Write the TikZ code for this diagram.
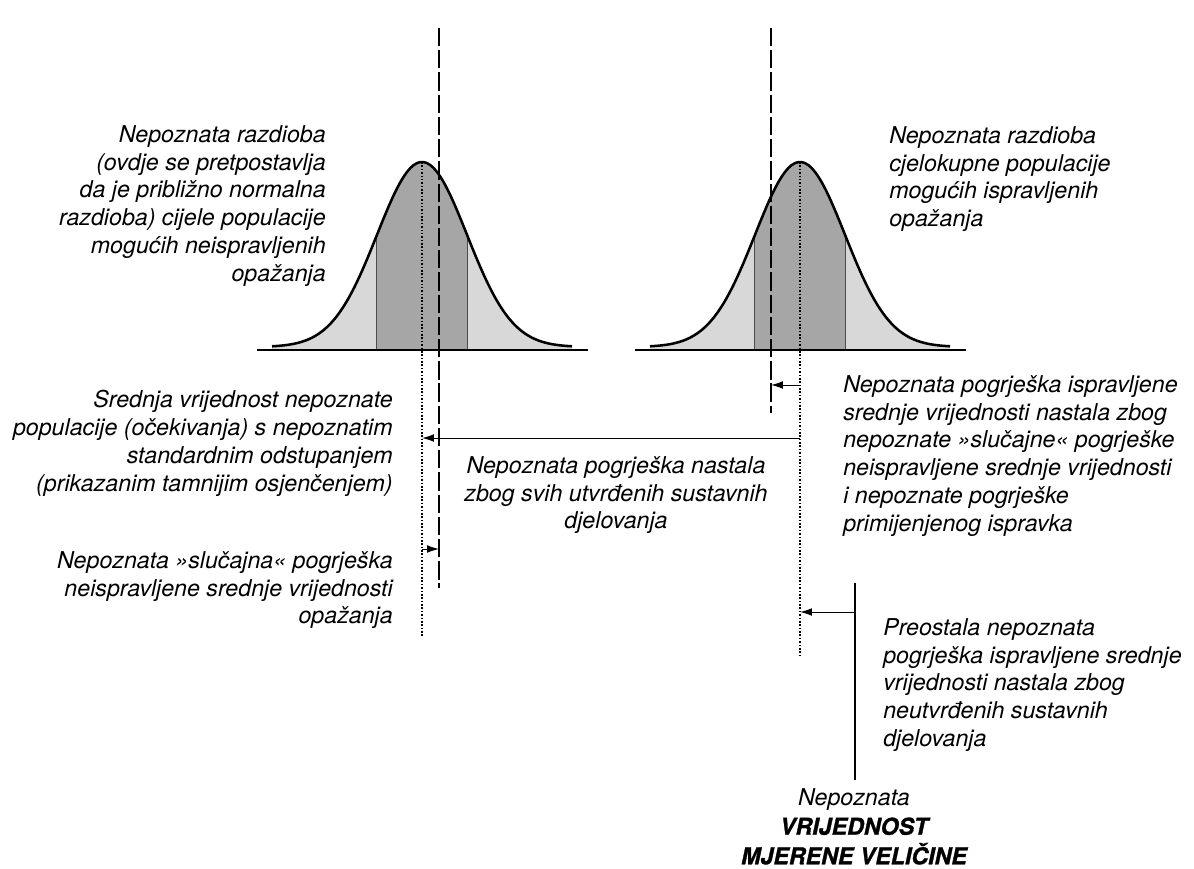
\documentclass[tikz,border=0pt]{standalone}
\usepackage{fontspec}
\setmainfont{TeX Gyre Heros}
\newfontfamily\heavyfont[FakeBold=1.2]{TeX Gyre Heros}
\usetikzlibrary{arrows.meta}
\tikzset{note/.style={font=\itshape\fontsize{16.5}{19.8}\selectfont,inner sep=0pt},
 dotline/.style={line width=1.3pt,dash pattern=on 1.1pt off 1.3pt},
 dashline/.style={line width=0.9pt,dash pattern=on 13pt off 2.8pt},
 err/.style={line width=0.7pt,-{Latex[length=8.5pt,width=5.5pt]}},
 bell/.style={line width=1.8pt,line join=round}}
\definecolor{tailgray}{RGB}{216,216,216}
\definecolor{bandgray}{RGB}{166,166,166}

\begin{document}
\begin{tikzpicture}[x=0.025cm,y=-0.025cm,declare function={gy(\t)=347-185*exp(-0.5*(\t/45)*(\t/45));}]
\useasboundingbox (0,0) rectangle (1194,868);
% the two populations
\foreach \m in {422,800}{
 \fill[tailgray] (\m-150,350) -- plot[domain=-150:150,samples=90,smooth] ({\m+\x},{gy(\x)}) -- (\m+150,350) -- cycle;
 \begin{scope}
 \clip (\m-150,350) -- plot[domain=-150:150,samples=90,smooth] ({\m+\x},{gy(\x)}) -- (\m+150,350) -- cycle;
 \fill[bandgray] (\m-45.5,352) rectangle (\m+45.5,150);
 \draw[line width=0.6pt,black!70] (\m-45.5,352) -- (\m-45.5,150) (\m+45.5,352) -- (\m+45.5,150);
 \end{scope}
 \draw[bell] plot[domain=-150:150,samples=90,smooth] ({\m+\x},{gy(\x)});
 \draw[line width=1.8pt] (\m-165,350) -- (\m+166,350);
}
\coordinate (lmu) at (422,162); \coordinate (lmuend) at (422,637);
\coordinate (lobs) at (439,28); \coordinate (lobsend) at (439,588);
\coordinate (rmu) at (800,162); \coordinate (rmuend) at (800,657);
\coordinate (rcor) at (771,28); \coordinate (rcorend) at (771,413);
\coordinate (truev) at (855,583); \coordinate (truevend) at (855,780);
\draw[dotline] (lmu) -- (lmuend);
\draw[dotline] (rmu) -- (rmuend);
\draw[dashline] (lobs) -- (lobsend);
\draw[dashline] (rcor) -- (rcorend);
\draw[line width=2pt] (truev) -- (truevend);
% errors
\draw[err] (rmu |- 0,385) -- (rcor |- 0,385);
\draw[err] (rmu |- 0,438) -- (lmu |- 0,438);
\draw[err] (lmu |- 0,549) -- (lobs |- 0,549);
\draw[err] (truev |- 0,612) -- (rmu |- 0,612);
% texts
\node[note,align=right,anchor=north east] (ldist) at (326,125) {Nepoznata razdioba\\(ovdje se pretpostavlja\\da je približno normalna\\razdioba) cijele populacije\\mogućih neispravljenih\\opažanja};
\node[note,align=left,anchor=north west] (rdist) at (889,126) {Nepoznata razdioba\\cjelokupne populacije\\mogućih ispravljenih\\opažanja};
\node[note,align=right,anchor=north east] (lmean) at (393,390) {Srednja vrijednost nepoznate\\populacije (očekivanja) s nepoznatim\\standardnim odstupanjem\\(prikazanim tamnijim osjenčenjem)};
\node[note,align=right,anchor=north east] (lrand) at (393,551) {Nepoznata »slučajna« pogrješka\\neispravljene srednje vrijednosti\\opažanja};
\node[note,align=center,anchor=north] (syst) at (616,456) {Nepoznata pogrješka nastala\\zbog svih utvrđenih sustavnih\\djelovanja};
\node[note,align=left,anchor=north west] (rerr) at (843,375) {Nepoznata pogrješka ispravljene\\srednje vrijednosti nastala zbog\\nepoznate »slučajne« pogrješke\\neispravljene srednje vrijednosti\\i nepoznate pogrješke\\primijenjenog ispravka};
\node[note,align=left,anchor=north west] (resid) at (883,618) {Preostala nepoznata\\pogrješka ispravljene srednje\\vrijednosti nastala zbog\\neutvrđenih sustavnih\\djelovanja};
\node[inner sep=0pt,align=center,anchor=north,font=\fontsize{16.5}{21}\selectfont] (truetxt) at (854,788) {{\itshape Nepoznata}\\{\heavyfont\bfseries\itshape VRIJEDNOST}\\{\heavyfont\bfseries\itshape MJERENE VELIČINE}};
\end{tikzpicture}
\end{document}
